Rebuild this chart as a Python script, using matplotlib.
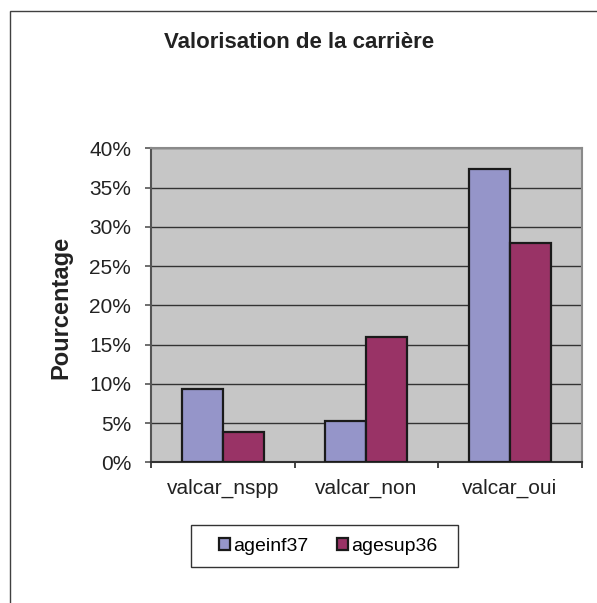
import matplotlib.pyplot as plt
import numpy as np
from matplotlib.patches import Rectangle

categories = ["valcar_nspp", "valcar_non", "valcar_oui"]
series_names = ["ageinf37", "agesup36"]
ageinf37 = [9.3, 5.3, 37.3]
agesup36 = [3.9, 16.0, 28.0]
y_ticks = [0, 5, 10, 15, 20, 25, 30, 35, 40]

plt.rcParams["font.family"] = ["Liberation Sans", "DejaVu Sans"]

W, H = 597, 603
fig = plt.figure(figsize=(W / 100, H / 100), dpi=100)

# outer chart border (right and bottom edges run off the image)
fig.patches.append(Rectangle((9.5 / W, -0.1), 2.0, 1 - 11.5 / H + 0.1, transform=fig.transFigure,
                             fill=False, edgecolor="#404040", linewidth=1.0))

ax = fig.add_axes([151 / W, 1 - 462.3 / H, 430.7 / W, 314 / H])
ax.set_facecolor("#C6C6C6")

x = np.arange(len(categories))
bw = 1 / 3.5
ax.bar(x - bw / 2, ageinf37, bw, color="#9595C9", edgecolor="#1a1a1a", linewidth=1.6,
       label=series_names[0], zorder=3)
ax.bar(x + bw / 2, agesup36, bw, color="#993366", edgecolor="#1a1a1a", linewidth=1.6,
       label=series_names[1], zorder=3)

ax.set_xlim(-0.5, len(categories) - 0.5)
ax.set_ylim(0, 40)
ax.set_yticks(y_ticks)
ax.set_yticklabels([f"{v}%" for v in y_ticks], fontsize=15, color="#222222")
ax.yaxis.grid(True, color="#333333", linewidth=1.0, zorder=1)
ax.set_axisbelow(True)

ax.set_xticks(x)
ax.set_xticklabels(categories, fontsize=15, color="#222222")
ax.tick_params(axis="x", length=0, pad=12)
ax.set_xticks(np.arange(len(categories) + 1) - 0.5, minor=True)
ax.tick_params(axis="x", which="minor", length=4.3, width=1.2, color="#222222", direction="out")
ax.tick_params(axis="y", length=4.3, width=1.2, color="#555555", direction="out", pad=10)

for side in ["top", "right"]:
    ax.spines[side].set_color("#8a8a8a")
    ax.spines[side].set_linewidth(1.5)
ax.spines["left"].set_color("#555555")
ax.spines["left"].set_linewidth(1.5)
ax.spines["bottom"].set_color("#333333")
ax.spines["bottom"].set_linewidth(1.5)

fig.text(299 / W, 1 - 43 / H, "Valorisation de la carrière", ha="center", va="center",
         fontsize=16, fontweight="bold", color="#222222")
fig.text(61 / W, 1 - 307 / H, "Pourcentage", ha="center", va="center", rotation=90,
         fontsize=17, fontweight="bold", color="#222222")

# legend box drawn separately so its padding matches the Excel layout
fig.patches.append(Rectangle((191 / W, 1 - 567.3 / H), 267.3 / W, 42.3 / H, transform=fig.transFigure,
                             facecolor="white", edgecolor="#333333", linewidth=1.0))
leg = fig.legend(loc="center", bbox_to_anchor=(328 / W, 1 - 546.2 / H), ncol=2, fontsize=14,
                 frameon=False, handlelength=0.55, handleheight=0.55, handletextpad=0.15,
                 columnspacing=1.5, borderpad=0, borderaxespad=0)
for patch in leg.get_patches():
    patch.set_linewidth(1.6)

fig.savefig("out.png", dpi=100, facecolor="white")
